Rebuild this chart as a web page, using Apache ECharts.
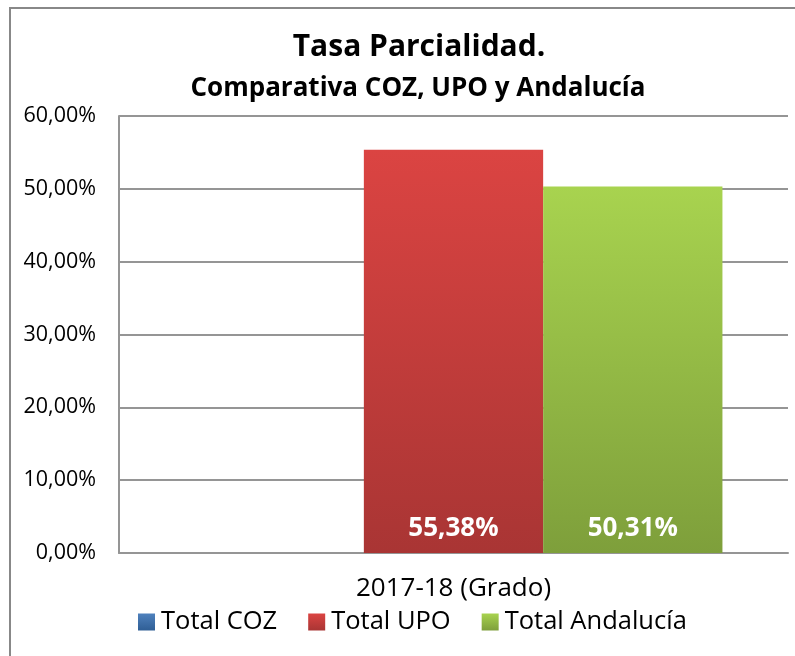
<!DOCTYPE html>
<html>
<head>
<meta charset="utf-8">
<script src="https://cdn.jsdelivr.net/npm/echarts@6/dist/echarts.min.js"></script>
<style>
  html, body { margin: 0; padding: 0; background: #fff; }
  #chart { width: 795px; height: 656px; }
</style>
</head>
<body>
<div id="chart"></div>
<script>
var categories = ['2017-18 (Grado)'];
var seriesNames = ['Total COZ', 'Total UPO', 'Total Andalucía'];
var cozValues = [null];
var upoValues = [55.38];
var andaluciaValues = [50.31];
var yTicks = [0, 10, 20, 30, 40, 50, 60];

function grad(top, bottom) {
    return new echarts.graphic.LinearGradient(0, 0, 0, 1, [
        { offset: 0, color: top },
        { offset: 1, color: bottom }
    ]);
}

function fmt(v) {
    return v.toFixed(2).replace('.', ',') + '%';
}

var font = '"Open Sans", "Noto Sans", sans-serif';

var barLabel = {
    show: true,
    position: 'insideBottom',
    distance: 11,
    color: '#fff',
    fontFamily: font,
    fontWeight: 'bold',
    fontSize: 26,
    formatter: function (p) { return p.value == null ? '' : fmt(p.value); }
};

var chart = echarts.init(document.getElementById('chart'));
var option = {
    backgroundColor: '#fff',
    animation: false,
    textStyle: { fontFamily: font },
    graphic: [
        {
            type: 'rect',
            shape: { x: 10, y: 8, width: 800, height: 660 },
            style: { fill: 'none', stroke: '#888', lineWidth: 2 }
        }
    ],
    title: [
        {
            text: 'Tasa Parcialidad.',
            left: 414, top: 27, textAlign: 'center',
            textStyle: { fontFamily: font, fontSize: 30, fontWeight: 'bold', color: '#000' }
        },
        {
            text: 'Comparativa COZ, UPO y Andalucía',
            left: 413, top: 71, textAlign: 'center',
            textStyle: { fontFamily: font, fontSize: 26, fontWeight: 'bold', color: '#000' }
        }
    ],
    grid: {
        left: 119, right: 7, top: 116, bottom: 103,
        show: false, containLabel: false
    },
    legend: {
        bottom: 16,
        left: 133,
        itemWidth: 17, itemHeight: 17, itemGap: 31,
        icon: 'rect',
        textStyle: { fontFamily: font, fontSize: 25.5, color: '#000', padding: [0, 0, 0, 1] },
        data: seriesNames
    },
    xAxis: {
        type: 'category',
        data: categories,
        axisLine: { lineStyle: { color: '#959595', width: 2 } },
        axisTick: { show: false },
        axisLabel: { fontFamily: font, fontSize: 26, color: '#000', margin: 23 }
    },
    yAxis: {
        type: 'value',
        min: yTicks[0], max: yTicks[yTicks.length - 1], interval: 10,
        axisLine: { show: true, lineStyle: { color: '#959595', width: 2 } },
        axisTick: { show: false },
        splitLine: { lineStyle: { color: '#959595', width: 2 } },
        axisLabel: {
            fontFamily: font, fontSize: 21.5, color: '#000', margin: 23,
            formatter: function (v) { return fmt(v); }
        }
    },
    series: [
        {
            name: seriesNames[0], type: 'bar', data: cozValues,
            barGap: '0%', barCategoryGap: '19.6%',
            itemStyle: { color: grad('#4F81BD', '#2F5E95') },
            label: barLabel
        },
        {
            name: seriesNames[1], type: 'bar', data: upoValues,
            barGap: '0%', barCategoryGap: '19.6%',
            itemStyle: { color: grad('#DB4442', '#A93534') },
            label: barLabel
        },
        {
            name: seriesNames[2], type: 'bar', data: andaluciaValues,
            barGap: '0%', barCategoryGap: '19.6%',
            itemStyle: { color: grad('#A8D34F', '#7E9F3B') },
            label: barLabel
        }
    ]
};
chart.setOption(option);
</script>
</body>
</html>
